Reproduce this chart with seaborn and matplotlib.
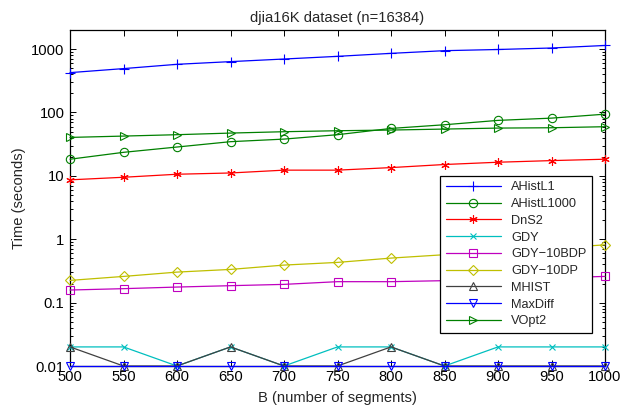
import numpy as np
import pandas as pd
import matplotlib
matplotlib.use("Agg")
import matplotlib.pyplot as plt
import seaborn as sns
from matplotlib.ticker import FixedLocator, FixedFormatter, LogLocator, NullFormatter

sns.set_style("ticks")
plt.rcParams['font.family'] = ['Liberation Sans', 'DejaVu Sans']

B = [500, 550, 600, 650, 700, 750, 800, 850, 900, 950, 1000]
ahistl1 = [425, 492, 575, 634, 697, 768, 856, 944, 985, 1040, 1140]
ahistl1000 = [18.3, 23.5, 28.5, 34.6, 38, 44.6, 56, 64, 75, 81.4, 94]
dns2 = [8.65, 9.5, 10.6, 11.1, 12.3, 12.3, 13.5, 15.1, 16.4, 17.4, 18.3]
gdy = [0.02, 0.02, 0.01, 0.02, 0.01, 0.02, 0.02, 0.01, 0.02, 0.02, 0.02]
gdy10bdp = [0.158, 0.166, 0.176, 0.185, 0.194, 0.214, 0.214, 0.222, 0.232, 0.245, 0.259]
gdy10dp = [0.224, 0.259, 0.303, 0.334, 0.391, 0.431, 0.504, 0.57, 0.64, 0.72, 0.815]
mhist = [0.02, 0.01, 0.01, 0.02, 0.01, 0.01, 0.02, 0.01, 0.01, 0.01, 0.01]
maxdiff = [0.01] * 11
vopt2 = [40.4, 42.4, 44.6, 47.3, 49.7, 51.5, 52.8, 54.7, 56.7, 57.4, 59.6]

names = ["AHistL1", "AHistL1000", "DnS2", "GDY", "GDY\u221210BDP", "GDY\u221210DP", "MHIST", "MaxDiff", "VOpt2"]
series = [ahistl1, ahistl1000, dns2, gdy, gdy10bdp, gdy10dp, mhist, maxdiff, vopt2]
colors = ["#0000ff", "#008000", "#ff0000", "#00bfbf", "#bf00bf", "#bfbf00", "#404040", "#0000ff", "#008000"]
markers = ["+", "o", (6, 2, 0), "x", "s", "D", "^", "v", ">"]
msizes = [7, 6, 6, 5, 6, 5, 6, 6, 6]

yticks = [0.01, 0.1, 1, 10, 100, 1000]
ytlabels = ["0.01", "0.1", "1", "10", "100", "1000"]

fig = plt.figure(figsize=(6.23, 4.07), dpi=100)
ax = fig.add_axes([70/623, 41/407, 535/623, 336/407])

for name, vals, c, m, ms in zip(names, series, colors, markers, msizes):
    df = pd.DataFrame({"B": B, "t": vals})
    sns.lineplot(data=df, x="B", y="t", ax=ax, color=c, marker=m, markersize=ms,
                 markerfacecolor="none", markeredgecolor=c, markeredgewidth=0.8,
                 linewidth=0.9, label=name, clip_on=False, zorder=3)

ax.set_yscale("log")
ax.set_xlim(500, 1000)
ax.set_ylim(0.01, 2000)
ax.set_xticks(B)
ax.set_xticklabels([str(b) for b in B])
ax.yaxis.set_major_locator(FixedLocator(yticks))
ax.yaxis.set_major_formatter(FixedFormatter(ytlabels))
ax.yaxis.set_minor_locator(LogLocator(base=10, subs=np.arange(2, 10)))
ax.yaxis.set_minor_formatter(NullFormatter())

fs = 10.6
ax.tick_params(axis="both", which="both", direction="in", top=True, right=True,
               labelsize=fs, colors="black", width=0.7)
ax.tick_params(axis="x", which="major", pad=3)
ax.tick_params(axis="y", which="major", pad=4)
ax.tick_params(axis="both", which="major", length=4)
ax.tick_params(axis="both", which="minor", length=2)
for sp in ax.spines.values():
    sp.set_linewidth(0.9)
    sp.set_color("black")
    sp.set_visible(True)

ax.set_xlabel("B (number of segments)", fontsize=fs, labelpad=5)
ax.set_ylabel("Time (seconds)", fontsize=fs, labelpad=4)
ax.set_title("djia16K dataset (n=16384)", fontsize=fs, pad=6)

leg = ax.legend(loc="lower right", bbox_to_anchor=(0.976, 0.098), borderaxespad=0,
                fontsize=9.2, frameon=True, fancybox=False, handlelength=4.3,
                labelspacing=0.37, borderpad=0.45, handletextpad=0.8, framealpha=1)
leg.get_frame().set_edgecolor("black")
leg.get_frame().set_linewidth(0.9)
leg.set_zorder(10)

fig.savefig("out.png", dpi=100)
